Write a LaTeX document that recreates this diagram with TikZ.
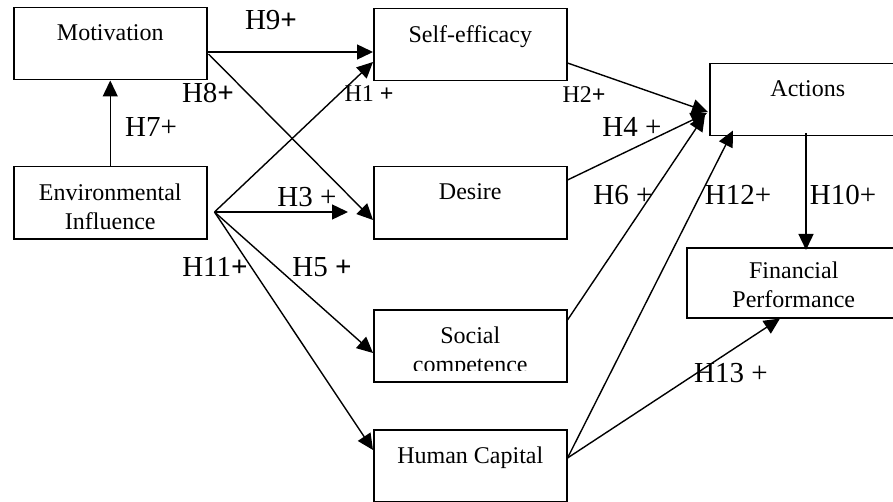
\documentclass[tikz,border=0pt]{standalone}
\usepackage{fontspec}
\setmainfont{Liberation Serif}
\usetikzlibrary{arrows.meta, calc}

\begin{document}
\begin{tikzpicture}[x=0.5pt, y=-0.5pt,
    box/.style={draw, line width=0.75pt, anchor=north west, minimum width=96.5pt, minimum height=36pt, inner sep=0pt},
    boxtext/.style={anchor=north, inner sep=0pt, yshift=-8.5pt, align=center, font=\fontsize{12}{14.5}\selectfont},
    hyp/.style={font=\fontsize{14.5}{17}\selectfont},
    hypsmall/.style={font=\fontsize{12}{14}\selectfont},
    link/.style={line width=0.7pt, -{Triangle[length=8pt, width=7.5pt]}}]
    \clip (0,0) rectangle (893,502);

    % boxes
    \node[box, label={[boxtext]north:Motivation}] (mot) at (13,7) {};
    \node[box, label={[boxtext]north:{Environmental\\Influence}}] (env) at (13,166) {};
    \node[box, label={[boxtext]north:Self-efficacy}] (self) at (373,8) {};
    \node[box, label={[boxtext]north:Desire}] (des) at (373,166) {};
    \node[box] (soc) at (373,309) {};
    \begin{scope}
        \clip (373,309) rectangle (566,370);
        \node[boxtext] (soctext) at (soc.north) {Social\\competence};
    \end{scope}
    \node[box, label={[boxtext]north:Human Capital}] (hum) at (373,429) {};
    \node[box, minimum width=98pt, label={[boxtext]north:Actions}] (act) at (709,63) {};
    \node[box, minimum width=107pt, minimum height=35pt, label={[boxtext, yshift=1.5pt]north:{Financial\\Performance}}] (fin) at (686,247) {};

    % paths
    \draw[link] (env.north) -- (mot.south);
    \draw[link] ($(mot.north east)+(0,45)$) -- ($(self.north west)+(0,44)$);
    \draw[link] ($(mot.north east)+(1,47)$) -- ($(des.north west)+(0,54)$);
    \coordinate (envout) at ($(env.north east)+(7,46)$);
    \draw[link] (envout) -- ($(self.north west)+(0,54)$);
    \draw[link] (envout) -- ($(des.north west)+(-25,46)$);
    \draw[link] (envout) -- ($(soc.north west)+(0,44)$);
    \draw[link] (envout) -- ($(hum.north west)+(0,21)$);
    \draw[link] ($(self.north east)+(0,55)$) -- ($(act.north west)+(-1,49)$);
    \draw[link] ($(des.north east)+(0,14)$) -- ($(act.north west)+(-2,50)$);
    \draw[link] ($(soc.north east)+(0,11)$) -- ($(act.north west)+(-4,52)$);
    \coordinate (humout) at ($(hum.north east)+(0,29)$);
    \draw[link] (humout) -- ($(act.south west)+(24,-6)$);
    \draw[link] (humout) -- ($(fin.south west)+(94,0)$);
    \draw[link] ($(act.south west)+(97,-3)$) -- ($(fin.north west)+(120,3)$);

    % hypotheses
    \node[hyp] (h9) at (271,20) {H9\textbf{+}};
    \node[hyp] (h8) at (208,93) {H8\textbf{+}};
    \node[hypsmall] (h1) at (369,94) {H1 \textbf{+}};
    \node[hyp] (h7) at (151,127) {H7+};
    \node[hyp] (h3) at (307,197) {H3 +};
    \node[hypsmall] (h2) at (584,95) {H2\textbf{+}};
    \node[hyp] (h4) at (632,127) {H4 +};
    \node[hyp] (h6) at (623,195) {H6 +};
    \node[hyp] (h12) at (738,195) {H12+};
    \node[hyp] (h10) at (843,195) {H10+};
    \node[hyp] (h11) at (215,267) {H11\textbf{+}};
    \node[hyp] (h5) at (322,267) {H5 \textbf{+}};
    \node[hyp] (h13) at (731,373) {H13 +};
\end{tikzpicture}
\end{document}
